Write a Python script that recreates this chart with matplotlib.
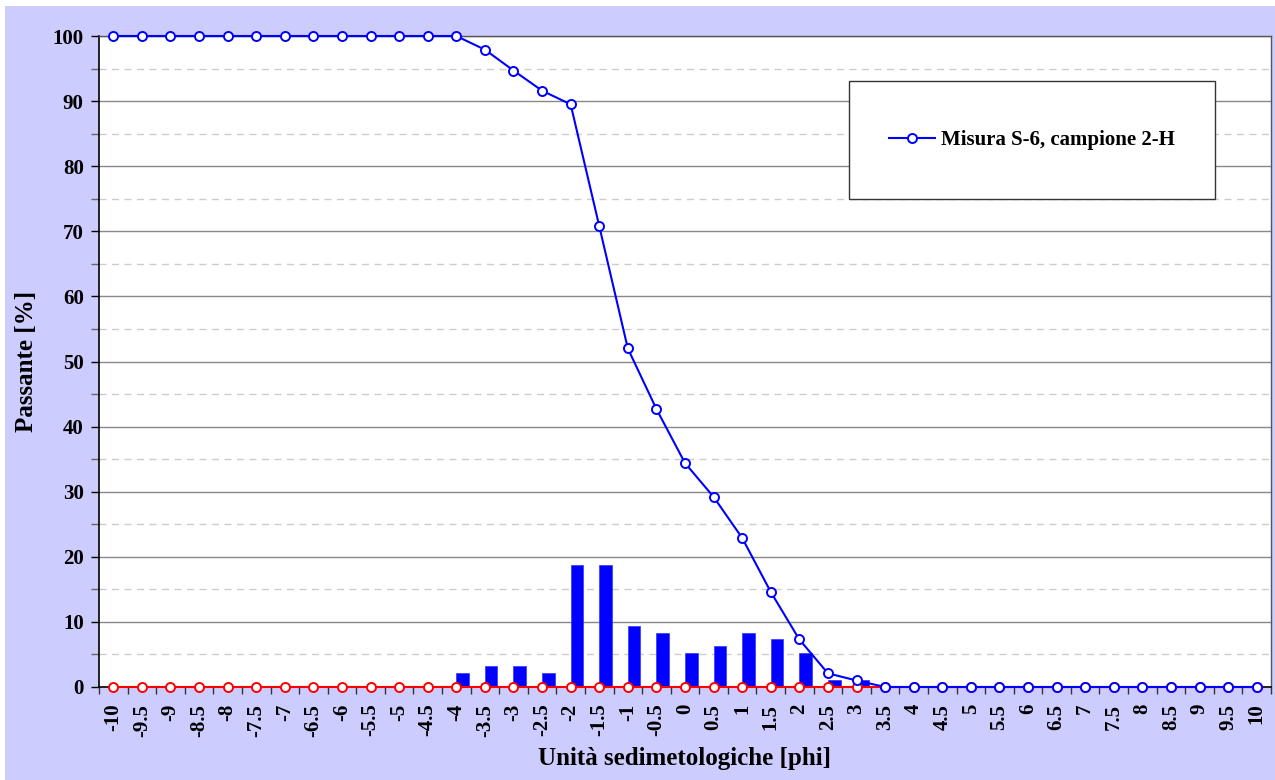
import matplotlib
matplotlib.use("Agg")
import matplotlib.pyplot as plt
from matplotlib.patches import Rectangle
from matplotlib.ticker import MultipleLocator, FixedLocator
import numpy as np

# ---- data ----
phi_labels = ["-10", "-9.5", "-9", "-8.5", "-8", "-7.5", "-7", "-6.5", "-6", "-5.5",
              "-5", "-4.5", "-4", "-3.5", "-3", "-2.5", "-2", "-1.5", "-1", "-0.5",
              "0", "0.5", "1", "1.5", "2", "2.5", "3", "3.5", "4", "4.5",
              "5", "5.5", "6", "6.5", "7", "7.5", "8", "8.5", "9", "9.5", "10"]
passante = [100, 100, 100, 100, 100, 100, 100, 100, 100, 100,
            100, 100, 100, 97.9, 94.7, 91.6, 89.5, 70.8, 52.0, 42.7,
            34.4, 29.2, 22.9, 14.6, 7.3, 2.1, 1.0, 0, 0, 0,
            0, 0, 0, 0, 0, 0, 0, 0, 0, 0, 0]
trattenuto = [0, 0, 0, 0, 0, 0, 0, 0, 0, 0,
              0, 0, 2.1, 3.2, 3.2, 2.1, 18.8, 18.8, 9.4, 8.3,
              5.2, 6.3, 8.3, 7.3, 5.2, 1.0, 1.0, 0, 0, 0,
              0, 0, 0, 0, 0, 0, 0, 0, 0, 0, 0]
riferimento = [0] * len(phi_labels)
legend_label = "Misura S-6, campione 2-H"

plt.rcParams['font.family'] = ['Liberation Serif', 'DejaVu Serif']
plt.rcParams['font.weight'] = 'bold'

W, H = 1275, 780
fig = plt.figure(figsize=(W / 100, H / 100), dpi=100)
fig.patch.set_facecolor('white')
fig.patches.append(Rectangle((5 / W, 0), 1 - 5 / W, 1 - 6 / H, transform=fig.transFigure,
                             facecolor='#CCCCFF', edgecolor='none', zorder=-10))

L, R, T, B = 99, 1271, 36, 687
ax = fig.add_axes([L / W, 1 - B / H, (R - L) / W, (B - T) / H])
ax.set_facecolor('white')

x = np.arange(len(phi_labels))

ax.bar(x, trattenuto, width=0.44, align='edge', color='#0000FF', edgecolor='#3333FF',
       linewidth=0.5, zorder=3)
ax.plot(x, riferimento, color='#FF0000', lw=1.5, marker='o', ms=6.5, mfc='white',
        mec='#FF0000', mew=1.4, zorder=4, clip_on=False)
ax.plot(x, passante, color='#0000FF', lw=1.5, marker='o', ms=6.5, mfc='white',
        mec='#0000FF', mew=1.4, zorder=5, label=legend_label, clip_on=False)

ax.set_xlim(-0.5, len(phi_labels) - 0.5)
ax.set_ylim(0, 100)

ax.yaxis.set_major_locator(MultipleLocator(10))
ax.yaxis.set_minor_locator(MultipleLocator(5))
ax.grid(which='major', axis='y', color='#888888', lw=1.0, ls='-', zorder=0)
ax.grid(which='minor', axis='y', color='#CCCCCC', lw=1.0, ls=(0, (5, 4)), zorder=0)
ax.set_axisbelow(True)

ax.set_xticks(x)
ax.set_xticklabels(phi_labels, rotation=90, fontsize=15, fontweight='bold')
ax.xaxis.set_minor_locator(FixedLocator(np.arange(-0.5, len(phi_labels), 1.0)))
ax.tick_params(axis='x', which='major', length=0, pad=12)
ax.tick_params(axis='x', which='minor', length=5, width=1, color='#333333', direction='out')
ax.tick_params(axis='y', which='major', length=6, width=1, labelsize=15, direction='out', pad=5)
ax.tick_params(axis='y', which='minor', length=6, width=1, color='#666666', direction='out')
for lab in ax.get_yticklabels():
    lab.set_fontweight('bold')

for s in ['left', 'bottom']:
    ax.spines[s].set_color('black')
    ax.spines[s].set_linewidth(1.2)
for s in ['top', 'right']:
    ax.spines[s].set_color('#555555')
    ax.spines[s].set_linewidth(1.0)

ax.set_ylabel("Passante [%]", fontsize=18, fontweight='bold')
ax.yaxis.set_label_coords((38 - L) / (R - L), 0.5)
ax.set_xlabel("Unità sedimetologiche [phi]", fontsize=18, fontweight='bold')
ax.xaxis.set_label_coords(0.5, (B - 747) / (B - T))

# legend box
bx0, bx1, by0, by1 = 849, 1215, 81, 199
ax.add_patch(Rectangle(((bx0 - L) / (R - L), (B - by1) / (B - T)),
                       (bx1 - bx0) / (R - L), (by1 - by0) / (B - T),
                       transform=ax.transAxes, facecolor='white', edgecolor='#333333',
                       lw=1.0, zorder=6))
leg = ax.legend(loc='center', bbox_to_anchor=(((bx0 + bx1) / 2 - L) / (R - L),
                                                (B - (by0 + by1) / 2) / (B - T)),
                frameon=False, handlelength=2.2, handletextpad=0.3,
                prop={'weight': 'bold', 'size': 15})
leg.set_zorder(7)

fig.savefig("out.png", dpi=100)
